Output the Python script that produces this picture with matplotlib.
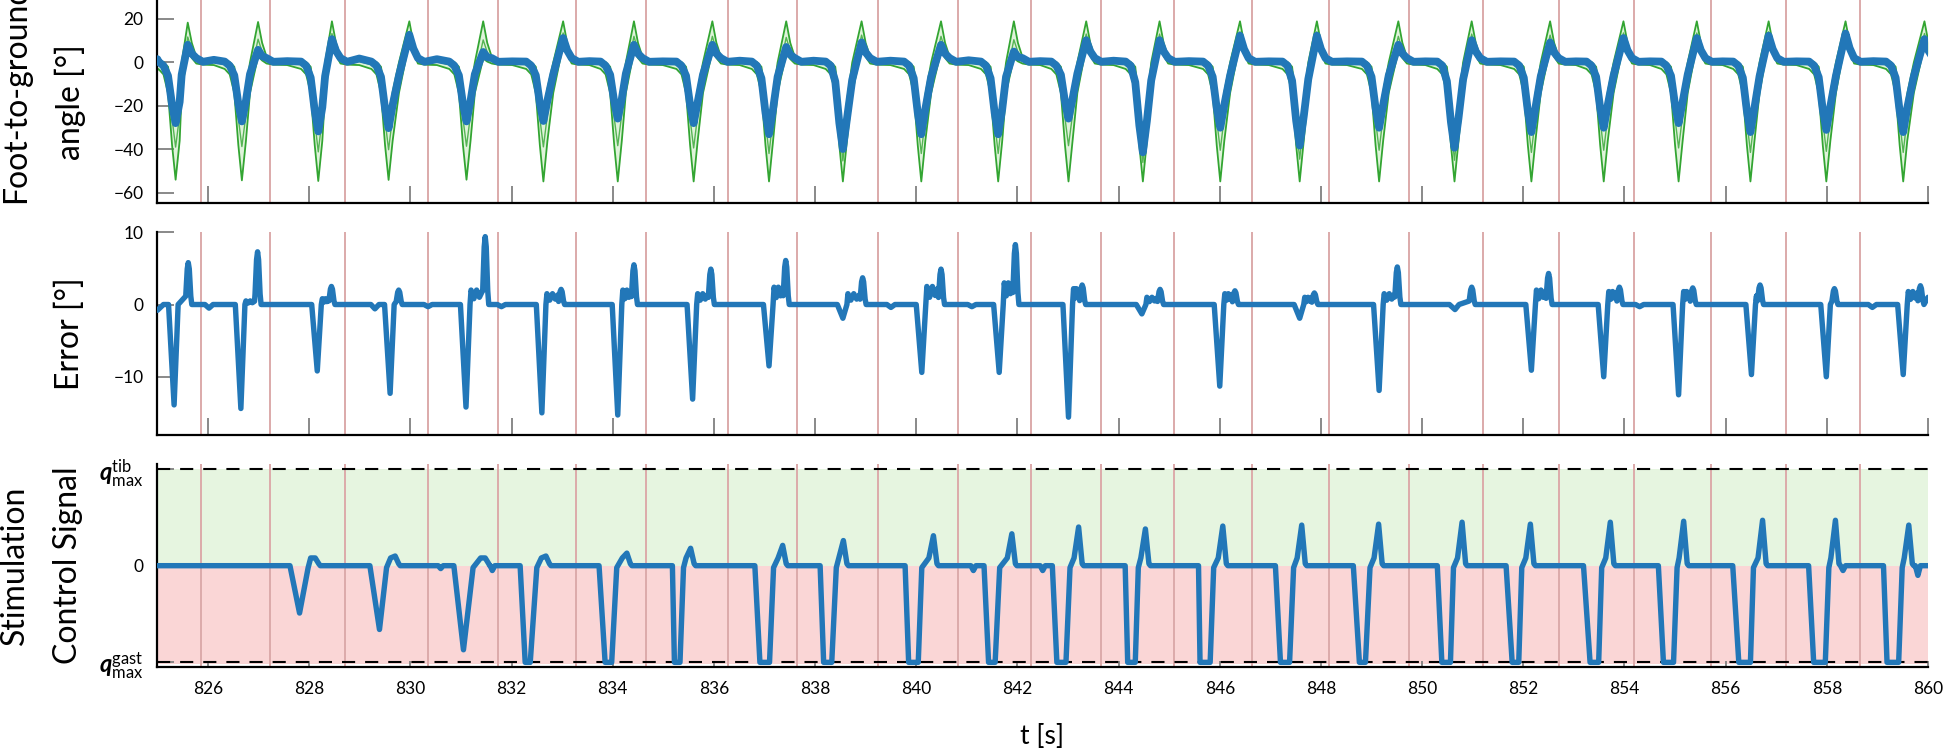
import numpy as np
import matplotlib
matplotlib.use("Agg")
import matplotlib.pyplot as plt

plt.rcParams['font.family'] = ['Lato', 'DejaVu Sans']
plt.rcParams['mathtext.fontset'] = 'custom'
plt.rcParams['mathtext.rm'] = 'Lato'
plt.rcParams['mathtext.it'] = 'Lato:italic'
plt.rcParams['mathtext.bf'] = 'Lato:italic:bold'

# ---------------- data ----------------
heel_strikes = [825.86, 827.23, 828.71, 830.34, 831.74, 833.27, 834.65, 836.27,
                837.65, 839.25, 840.83, 842.27, 843.66, 845.10, 846.63, 848.16,
                849.74, 851.20, 852.71, 854.19, 855.72, 857.20, 858.66]

# foot-to-ground angle: per gait cycle trough / peak (measured, blue)
ang_tr_t = [825.36, 826.67, 828.18, 829.57, 831.11, 832.63, 834.10, 835.60,
            837.09, 838.55, 840.10, 841.62, 843.01, 844.48, 846.01, 847.58,
            849.15, 850.64, 852.16, 853.59, 855.07, 856.49, 857.99, 859.51]
ang_tr_v = [-27.9, -27.1, -31.7, -30.2, -27.1, -26.9, -25.8, -27.9,
            -33.0, -39.8, -33.0, -33.0, -25.8, -41.3, -30.0, -38.2,
            -30.0, -39.2, -32.0, -30.0, -27.9, -32.0, -31.0, -32.0]
ang_pk_t = [825.60, 826.99, 828.45, 829.98, 831.44, 833.02, 834.42, 835.97,
            837.43, 838.92, 840.49, 841.93, 843.36, 844.81, 846.40, 847.92,
            849.53, 850.98, 852.53, 853.98, 855.43, 856.85, 858.37, 859.93]
ang_pk_v = [8.1, 5.8, 10.7, 12.7, 4.8, 11.2, 8.1, 8.1,
            7.1, 9.2, 8.1, 5.0, 10.2, 10.2, 12.3, 12.3,
            8.1, 10.2, 9.2, 11.2, 11.2, 12.3, 13.3, 10.7]
ang_stance = [1.5, 1.2, 0.6, 1.8, 1.5, 0.5, 0.6, 0.5,
              0.8, 0.8, 0.8, 1.0, 0.6, 0.8, 0.6, 0.5,
              0.5, 0.5, 0.5, 0.5, 0.5, 0.5, 0.5, 0.6]
# reference band (green): extremes per cycle
ref_lo_tr = [-53.9, -54.2, -54.5, -54.0, -53.9, -54.7, -54.7, -54.7,
             -54.7, -54.7, -54.7, -54.7, -54.7, -54.7, -54.7, -54.7,
             -54.7, -54.7, -54.7, -54.7, -54.7, -54.7, -54.7, -54.7]
ref_hi_pk = [18.3, 18.6, 18.9, 18.9, 18.9, 18.9, 18.9, 18.9,
             18.9, 18.9, 18.9, 18.9, 18.9, 18.9, 18.9, 18.9,
             18.9, 18.9, 18.9, 18.9, 18.9, 18.9, 18.9, 18.9]

# error: per cycle negative spike, positive spike, cluster level
err_neg_t = [825.33, 826.65, 828.16, 829.60, 831.10, 832.60, 834.10, 835.58,
             837.09, 838.55, 840.11, 841.64, 843.01, 844.46, 846.00, 847.58,
             849.15, 850.65, 852.16, 853.59, 855.07, 856.51, 857.99, 859.51]
err_neg_v = [-13.9, -14.4, -9.2, -12.3, -14.2, -15.0, -15.3, -13.1,
             -8.5, -1.9, -9.4, -9.4, -15.6, -1.3, -11.3, -1.9,
             -11.9, -0.7, -9.1, -10.0, -12.5, -9.7, -10.0, -9.7]
err_pos_t = [825.61, 826.98, 828.44, 829.77, 831.48, 832.98, 834.42, 835.94,
             837.42, 838.94, 840.49, 841.96, 843.28, 844.82, 846.30, 847.87,
             849.51, 850.98, 852.50, 853.90, 855.35, 856.68, 858.15, 859.85]
err_pos_v = [5.8, 7.3, 2.5, 2.0, 9.4, 2.1, 5.5, 4.9,
             6.1, 3.7, 4.9, 8.3, 2.7, 2.1, 1.9, 1.6,
             5.2, 2.4, 4.3, 2.4, 2.3, 2.7, 2.2, 2.6]
err_cl = [0.0, 0.5, 0.8, 0.0, 2.0, 1.5, 2.0, 1.5,
          2.4, 1.5, 2.5, 3.0, 2.2, 1.0, 1.5, 1.0,
          1.5, 0.0, 2.0, 1.8, 1.8, 1.2, 1.6, 1.8]
err_dip_t = [826.02, 829.30, 830.35, 831.80, 839.50, 841.10, 854.30, 858.90]
err_dip_v = [-0.5, -0.6, -0.3, -0.3, -0.4, -0.3, -0.3, -0.4]

# stimulation control signal, cycles 3..24
ctrl_t0 = [827.62, 829.20, 830.86, 832.17, 833.73, 835.18, 836.81, 838.10,
           839.78, 841.34, 842.69, 844.13, 845.58, 847.10, 848.64, 850.30,
           851.66, 853.19, 854.67, 856.14, 857.64, 859.12]
ctrl_b0 = [827.81, 829.39, 831.05, 832.27, 833.85, 835.22, 836.91, 838.17,
           839.85, 841.43, 842.78, 844.18, 845.61, 847.20, 848.76, 850.39,
           851.78, 853.32, 854.77, 856.26, 857.74, 859.19]
ctrl_b1 = [827.81, 829.39, 831.05, 832.37, 833.98, 835.33, 837.10, 838.33,
           840.04, 841.56, 842.96, 844.33, 845.81, 847.38, 848.88, 850.56,
           851.91, 853.49, 854.97, 856.49, 857.97, 859.42]
ctrl_up = [827.98, 829.53, 831.24, 832.50, 834.08, 835.40, 837.18, 838.42,
           840.11, 841.65, 843.04, 844.39, 845.88, 847.46, 848.97, 850.62,
           851.97, 853.55, 855.04, 856.55, 858.04, 859.49]
ctrl_depth = [0.49, 0.66, 0.87, 1.0, 1.0, 1.0, 1.0, 1.0,
              1.0, 1.0, 1.0, 1.0, 1.0, 1.0, 1.0, 1.0,
              1.0, 1.0, 1.0, 1.0, 1.0, 1.0]
ctrl_bump_t = [828.12, 829.70, 831.48, 832.68, 834.28, 835.54, 837.36, 838.56,
               840.34, 841.89, 843.21, 844.53, 846.06, 847.62, 849.14, 850.79,
               852.14, 853.72, 855.17, 856.73, 858.17, 859.62]
ctrl_bump_v = [0.08, 0.10, 0.08, 0.10, 0.13, 0.18, 0.21, 0.26,
               0.31, 0.33, 0.40, 0.38, 0.41, 0.42, 0.43, 0.45,
               0.43, 0.45, 0.46, 0.47, 0.47, 0.42]
ctrl_dip_t = [830.60, 831.62, 841.13, 842.50, 858.32, 859.80]
ctrl_dip_v = [-0.03, -0.05, -0.05, -0.05, -0.05, -0.10]

x_ticks = list(range(826, 861, 2))
ang_ticks = [20, 0, -20, -40, -60]
err_ticks = [10, 0, -10]
ctrl_ticks = [-1, 0, 1]
ctrl_ticklabels = [r'$\mathbf{q}^{\mathrm{gast}}_{\mathrm{max}}$', '0',
                   r'$\mathbf{q}^{\mathrm{tib}}_{\mathrm{max}}$']

# ---------------- assemble polylines from the read keypoints ----------------
def build_angle():
    pts = [(825.0, 1.5, -3.5, 1.0)]
    for i in range(len(ang_tr_t)):
        tr, trv, pk, pkv = ang_tr_t[i], ang_tr_v[i], ang_pk_t[i], ang_pk_v[i]
        lo_tr, hi_pk = ref_lo_tr[i], ref_hi_pk[i]
        if i > 0:
            mid = 0.5 * (ang_pk_t[i - 1] + 0.30 + tr - 0.34)
            pts.append((mid, ang_stance[i], -1.2, ang_stance[i] + 0.3))
        rm = tr + 0.5 * (pk - tr)
        pts += [
            (tr - 0.34, 0.4, -3.0, 0.9),
            (tr - 0.24, -1.5, -5.5, 0.2),
            (tr - 0.15, 0.22 * trv, -14.0, -2.0),
            (tr - 0.07, 0.70 * trv, -38.0, 0.5 * trv),
            (tr, trv, lo_tr, trv + 4.0),
            (tr + 0.08, 0.65 * trv, -36.0, 0.45 * trv),
            (rm, 0.2 * trv, -14.0, 0.0),
            (pk, pkv, pkv - 3.0, hi_pk),
            (pk + 0.08, 0.5 * pkv, 0.5 * pkv - 2.0, 9.0),
            (pk + 0.17, 2.0, -0.5, 2.5),
            (pk + 0.30, 0.3, -1.0, 1.0),
        ]
    a = np.array(pts)
    return a[:, 0], a[:, 1], a[:, 2], a[:, 3]

def build_error():
    pts = [(825.0, -0.8), (825.12, 0.0)]
    fr = [0.0, 0.25, 0.5, 0.75, 1.0]
    sh = [1.0, 0.4, 1.0, 0.5, 0.9]
    for i in range(len(err_neg_t)):
        tn, vn, tp, vp, cl = err_neg_t[i], err_neg_v[i], err_pos_t[i], err_pos_v[i], err_cl[i]
        pts += [(tn - 0.11, 0.0), (tn - 0.05, 0.55 * vn), (tn, vn),
                (tn + 0.04, 0.5 * vn), (tn + 0.08, 0.0)]
        c0, c1 = tn + 0.10, tp - 0.06
        if cl > 0 and c1 > c0:
            pts += [(c0 + f * (c1 - c0), s * cl) for f, s in zip(fr, sh)]
        pts += [(tp - 0.05, 0.2 * vp), (tp - 0.02, 0.85 * vp), (tp, vp),
                (tp + 0.02, 0.85 * vp), (tp + 0.05, 0.2 * vp), (tp + 0.07, 0.0)]
    for t, v in zip(err_dip_t, err_dip_v):
        pts += [(t - 0.08, 0.0), (t, v), (t + 0.08, 0.0)]
    pts.append((860.0, 1.0))
    a = np.array(sorted(pts))
    return a[:, 0], a[:, 1]

def build_ctrl():
    pts = [(825.0, 0.0)]
    for i in range(len(ctrl_t0)):
        d, bt, bv = ctrl_depth[i], ctrl_bump_t[i], ctrl_bump_v[i]
        pts += [(ctrl_t0[i], 0.0), (ctrl_b0[i], -d), (ctrl_b1[i], -d),
                (ctrl_up[i], -0.02), (bt - 0.09, 0.08), (bt, bv),
                (bt + 0.07, 0.02), (bt + 0.10, 0.0)]
    for t, v in zip(ctrl_dip_t, ctrl_dip_v):
        pts += [(t - 0.05, 0.0), (t, v), (t + 0.05, 0.0)]
    pts.append((860.0, 0.0))
    a = np.array(sorted(pts))
    return a[:, 0], a[:, 1]

t_ang, blue_ang, g_lo, g_hi = build_angle()
g_mid = 0.5 * (g_lo + g_hi)
t_err, err = build_error()
t_ctl, ctl = build_ctrl()

# ---------------- figure ----------------
W, H = 1943, 751
fig = plt.figure(figsize=(W / 100, H / 100), dpi=100)

def ax_rect(top_px, bot_px):
    return [157.4 / W, 1 - bot_px / H, (1928 - 157.4) / W, (bot_px - top_px) / H]

ax1 = fig.add_axes(ax_rect(0, 203))
ax2 = fig.add_axes(ax_rect(232.3, 435))
ax3 = fig.add_axes(ax_rect(464, 666.7))

BLUE = '#2277b8'
GREEN = '#33a532'
RED = '#dcaaaa'

for ax in (ax1, ax2, ax3):
    ax.set_xlim(825, 860)
    for s in ('top', 'right'):
        ax.spines[s].set_visible(False)
    for s in ('left', 'bottom'):
        ax.spines[s].set_linewidth(1.6)
        ax.spines[s].set_color('black')
    ax.set_xticks(x_ticks)
    ax.tick_params(axis='both', direction='in', length=12.5, width=1.3,
                   color='#808080', labelsize=12.5, pad=10)
    for hs in heel_strikes:
        ax.axvline(hs, color=RED, lw=1.4, zorder=1.5)

# panel 1
ax1.set_ylim(-64.6, 28.7)
ax1.set_yticks(ang_ticks)
ax1.tick_params(axis='x', labelbottom=False)
ax1.fill_between(t_ang, g_lo, g_hi, color='#dff3da', lw=0, zorder=1)
ax1.plot(t_ang, g_lo, color=GREEN, lw=1.3, zorder=2)
ax1.plot(t_ang, g_hi, color=GREEN, lw=1.3, zorder=2)
ax1.plot(t_ang, g_mid, color=GREEN, lw=1.0, zorder=2, alpha=0.8)
ax1.plot(t_ang, blue_ang, color=BLUE, lw=5.6, zorder=3,
         solid_joinstyle='round', solid_capstyle='round')

# panel 2
ax2.set_ylim(-18.07, 10)
ax2.set_yticks(err_ticks)
ax2.tick_params(axis='x', labelbottom=False)
ax2.plot(t_err, err, color=BLUE, lw=3.9, zorder=3,
         solid_joinstyle='round', solid_capstyle='round')

# panel 3
ax3.set_ylim(-1.045, 1.052)
ax3.axhspan(0, 1, color='#e6f5e0', lw=0, zorder=0.5)
ax3.axhspan(-1.02, 0, color='#fad6d6', lw=0, zorder=0.5)
ax3.axhline(1, color='black', lw=1.5, dashes=(6.3, 4.8), zorder=2)
ax3.axhline(-1, color='black', lw=1.5, dashes=(6.3, 4.8), zorder=2)
ax3.plot(t_ctl, ctl, color=BLUE, lw=3.9, zorder=3,
         solid_joinstyle='round', solid_capstyle='round')
ax3.set_yticks(ctrl_ticks)
ax3.set_yticklabels(ctrl_ticklabels)
ax3.tick_params(axis='x', length=4)
for lab, fs in zip(ax3.get_yticklabels(), [17, 12.5, 17]):
    lab.set_fontsize(fs)

# labels
def fy(px):
    return 1 - px / H

fig.text(16 / W, fy(203), 'Foot-to-ground', rotation=90, ha='center', va='bottom', fontsize=23)
fig.text(70 / W, fy(102), 'angle [°]', rotation=90, ha='center', va='center', fontsize=23)
fig.text(70 / W, fy(334), 'Error [°]', rotation=90, ha='center', va='center', fontsize=23)
fig.text(15 / W, fy(565), 'Stimulation', rotation=90, ha='center', va='center', fontsize=23)
fig.text(68 / W, fy(565), 'Control Signal', rotation=90, ha='center', va='center', fontsize=23)
fig.text(1042 / W, fy(736), 't [s]', ha='center', va='center', fontsize=19)

fig.savefig('out.png', dpi=100)
